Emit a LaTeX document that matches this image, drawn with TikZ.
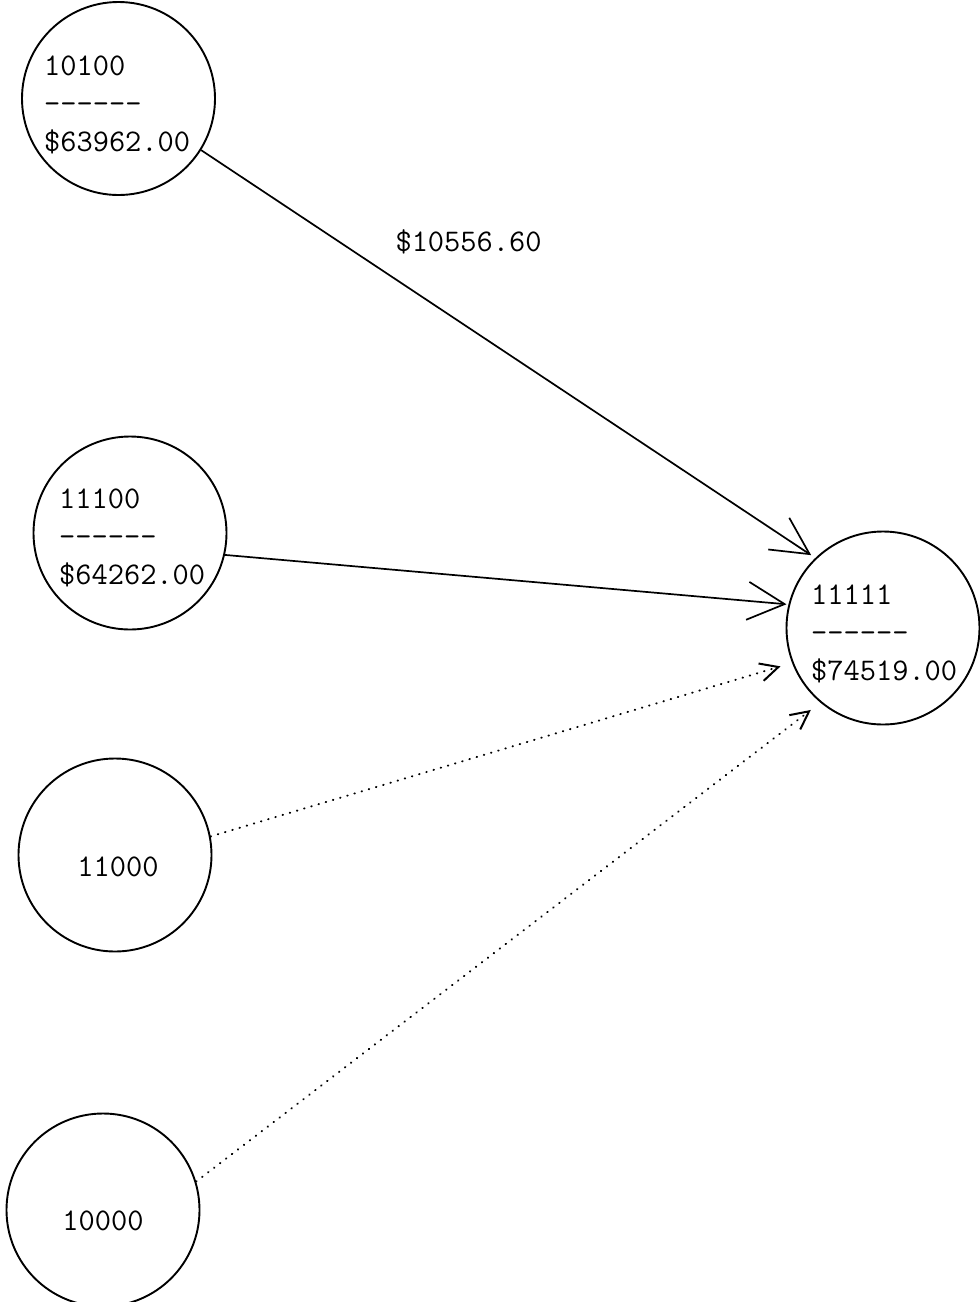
\documentclass[tikz,border=0pt]{standalone}
\usepackage{fontspec}
\usetikzlibrary{arrows.meta}
% six separate hyphens, kept apart so they never merge into a dash ligature
\newcommand\dashrule{\hbox{-}\hbox{-}\hbox{-}\hbox{-}\hbox{-}\hbox{-}}
\begin{document}
\begin{tikzpicture}[x=1pt,y=-1pt,
  acct/.style={circle, draw, line width=1.9pt, minimum size=193pt, inner sep=0pt},
  txt/.style={font=\fontsize{31.5}{38}\selectfont\ttfamily, inner sep=0pt, align=left},
  flow/.style={line width=1.7pt, -{Straight Barb[length=37pt,width=38pt]}},
  maybe/.style={line width=2pt, line cap=round, dash pattern=on 0.5pt off 7pt,
                -{Straight Barb[length=18pt,width=18pt,line cap=butt]}}]
  \useasboundingbox (0,0) rectangle (980,1302);

  % account circles
  \node[acct] (n10100) at (118.5,98.5) {};
  \node[acct] (n11100) at (130,533) {};
  \node[acct] (n11000) at (115,855) {};
  \node[acct] (n10000) at (103,1210) {};
  \node[acct] (n11111) at (883,628) {};

  % account texts
  \node[txt, anchor=west] (t10100) at (44,104.5) {10100\\\dashrule\\\$63962.00};
  \node[txt, anchor=west] (t11100) at (59,537.5) {11100\\\dashrule\\\$64262.00};
  \node[txt, anchor=west] (t11111) at (811,634) {11111\\\dashrule\\\$74519.00};
  \node[txt] (t11000) at (118,867) {11000};
  \node[txt] (t10000) at (103,1221) {10000};

  % transfers
  \draw[flow] (n10100.-32) -- (n11111.134) [shorten >=5pt];
  \draw[flow] (n11100.-13.8) -- (n11111.166.5) [shorten >=2pt];
  \draw[maybe, shorten >=12pt] (n11000.11) -- (n11111.201);
  \draw[maybe, shorten >=12pt] (n10000.17.4) -- (n11111.230);

  \node[txt] (amt) at (468.5,242) {\$10556.60};
\end{tikzpicture}
\end{document}
